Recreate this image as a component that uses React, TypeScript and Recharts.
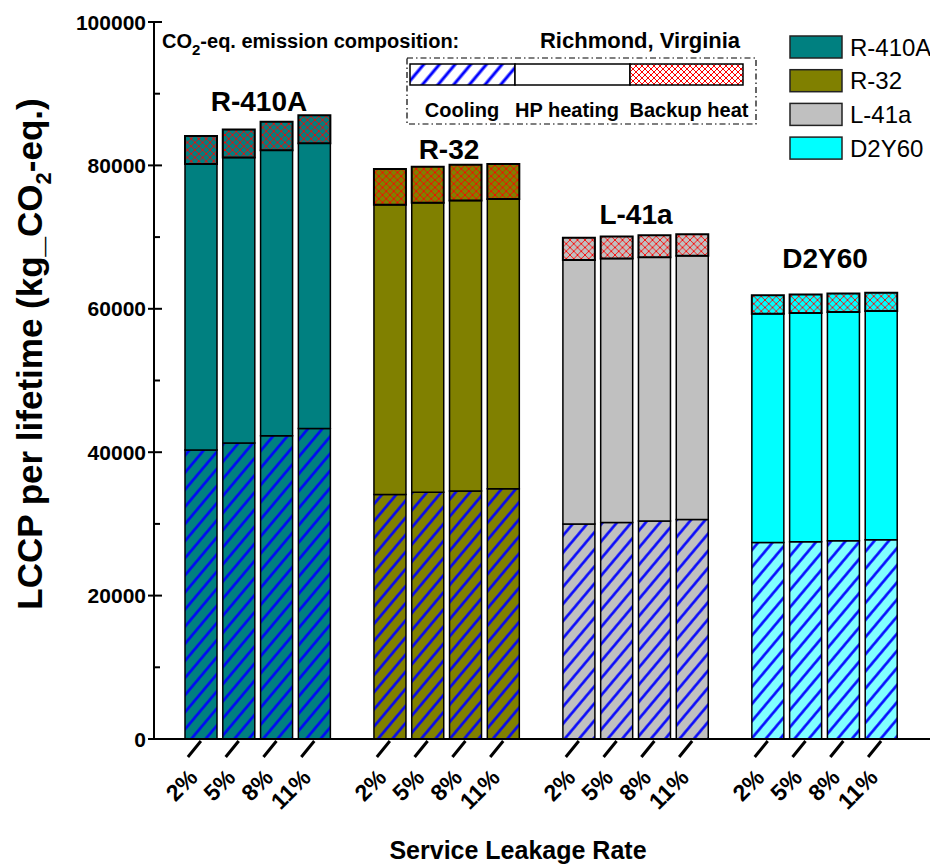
import React from 'react';
import { BarChart, Bar, XAxis, YAxis, Cell } from 'recharts';

const FONT = '"Liberation Sans", Arial, Helvetica, sans-serif';

const refrigerants = ['R-410A', 'R-32', 'L-41a', 'D2Y60'];
const leakageRates = ['2%', '5%', '8%', '11%'];

// segment values in kg CO2-eq., 4 leakage rates per refrigerant (R-410A, R-32, L-41a, D2Y60)
const cooling = [40300, 41300, 42300, 43300, 34100, 34400, 34600, 34900, 30000, 30200, 30400, 30600, 27400, 27500, 27650, 27800];
const hpHeating = [39900, 39800, 39800, 39800, 40400, 40400, 40500, 40400, 36800, 36800, 36800, 36800, 31900, 31900, 31900, 31900];
const backupHeat = [3900, 3900, 4000, 3900, 5000, 5000, 5000, 4900, 3100, 3100, 3050, 3000, 2600, 2600, 2600, 2550];

const yTicks = [0, 10000, 20000, 30000, 40000, 50000, 60000, 70000, 80000, 90000, 100000];

const seriesColors = ['#008080', '#808000', '#C0C0C0', '#00FFFF'];
const coolingColors = ['#008080', '#808000', '#C0C0C0', '#80FFFF'];

type Row = { key: string; rate: string; group: number; cooling: number | null; hp: number | null; backup: number | null };

const rows: Row[] = [];
refrigerants.forEach((ref, g) => {
  leakageRates.forEach((rate, r) => {
    const i = g * 4 + r;
    rows.push({ key: `${ref} ${rate}`, rate, group: g, cooling: cooling[i], hp: hpHeating[i], backup: backupHeat[i] });
  });
  if (g < refrigerants.length - 1) {
    rows.push({ key: `gap-${g}`, rate: '', group: -1, cooling: null, hp: null, backup: null });
  }
});

const groupLabelPos = [
  { x: 259, y: 111 },
  { x: 449, y: 159 },
  { x: 636, y: 224 },
  { x: 825, y: 268 },
];

const XTick = (props: any) => {
  const { x, y, payload } = props;
  const row = rows.find((r) => r.key === payload.value);
  if (!row || !row.rate) return <g />;
  const ex = x - 2;
  const ey = y + 40;
  return (
    <g>
      <line x1={x} y1={y + 2} x2={x - 13} y2={y + 18} stroke="#000" strokeWidth={3} />
      <text x={ex} y={ey} textAnchor="end" transform={`rotate(-45 ${ex} ${ey})`} fontFamily={FONT} fontWeight="bold" fontSize={23} fill="#000">
        {row.rate}
      </text>
    </g>
  );
};

const YTick = (props: any) => {
  const { x, y, payload } = props;
  const major = payload.value % 20000 === 0;
  return (
    <g>
      {major ? (
        <line x1={x - 6} y1={y} x2={x + 8} y2={y} stroke="#000" strokeWidth={2} />
      ) : (
        <line x1={x} y1={y} x2={x + 6} y2={y} stroke="#000" strokeWidth={2} />
      )}
      {major && (
        <text x={x - 8} y={y} dy="0.36em" textAnchor="end" fontFamily={FONT} fontWeight="bold" fontSize={21} fill="#000">
          {payload.value}
        </text>
      )}
    </g>
  );
};

const RTick = (props: any) => {
  const { x, y, payload } = props;
  const major = payload.value % 20000 === 0;
  return <line x1={x} y1={y} x2={x - (major ? 10 : 7)} y2={y} stroke="#000" strokeWidth={2} />;
};

export default function App() {
  return (
    <div style={{ position: 'fixed', left: 0, top: 0, width: 930, height: 864, overflow: 'hidden', background: '#fff' }}>
      <BarChart width={960} height={864} data={rows} margin={{ top: 22, right: 0, bottom: 25, left: 0 }} barSize={32}>
        <defs>
          {coolingColors.map((c, i) => (
            <pattern key={`cool-${i}`} id={`cool-${i}`} width={11} height={11} patternUnits="userSpaceOnUse" patternTransform="rotate(40)">
              <rect width={11} height={11} fill={c} />
              <line x1={5.5} y1={0} x2={5.5} y2={11} stroke="#0000FF" strokeWidth={2.5} />
            </pattern>
          ))}
          {seriesColors.map((c, i) => (
            <pattern key={`backup-${i}`} id={`backup-${i}`} width={7.5} height={7.5} patternUnits="userSpaceOnUse">
              <rect width={7.5} height={7.5} fill={c} />
              <path d="M0,0 L7.5,7.5 M7.5,0 L0,7.5" stroke="#FF0000" strokeWidth={0.9} />
            </pattern>
          ))}
          <pattern id="legend-cool" width={12} height={12} patternUnits="userSpaceOnUse" patternTransform="rotate(40)">
            <rect width={12} height={12} fill="#fff" />
            <line x1={6} y1={0} x2={6} y2={12} stroke="#0000FF" strokeWidth={3} />
          </pattern>
          <pattern id="legend-backup" width={6} height={6} patternUnits="userSpaceOnUse">
            <rect width={6} height={6} fill="#fff" />
            <path d="M0,0 L6,6 M6,0 L0,6" stroke="#FF0000" strokeWidth={1} />
          </pattern>
        </defs>

        <XAxis
          xAxisId="b"
          dataKey="key"
          type="category"
          height={100}
          padding={{ left: 28, right: 33 }}
          interval={0}
          tickSize={0}
          tickMargin={0}
          tickLine={false}
          axisLine={{ stroke: '#000', strokeWidth: 2 }}
          tick={(p: any) => <XTick {...p} />}
        />
        <XAxis
          xAxisId="t"
          orientation="top"
          dataKey="key"
          type="category"
          height={0}
          padding={{ left: 28, right: 33 }}
          tick={false}
          tickLine={false}
          axisLine={{ stroke: '#000', strokeWidth: 2 }}
        />
        <YAxis
          yAxisId="l"
          width={154}
          domain={[0, 100000]}
          ticks={yTicks}
          interval={0}
          tickSize={0}
          tickMargin={0}
          tickLine={false}
          axisLine={{ stroke: '#000', strokeWidth: 2 }}
          tick={(p: any) => <YTick {...p} />}
        />
        <YAxis
          yAxisId="r"
          orientation="right"
          width={27}
          domain={[0, 100000]}
          ticks={yTicks}
          interval={0}
          tickSize={0}
          tickMargin={0}
          tickLine={false}
          axisLine={{ stroke: '#000', strokeWidth: 2 }}
          tick={(p: any) => <RTick {...p} />}
        />

        <Bar dataKey="cooling" stackId="s" xAxisId="b" yAxisId="l" stroke="#000" strokeWidth={1.5} isAnimationActive={false}>
          {rows.map((r) => (
            <Cell key={r.key} fill={r.group >= 0 ? `url(#cool-${r.group})` : 'none'} />
          ))}
        </Bar>
        <Bar dataKey="hp" stackId="s" xAxisId="b" yAxisId="l" stroke="#000" strokeWidth={1.5} isAnimationActive={false}>
          {rows.map((r) => (
            <Cell key={r.key} fill={r.group >= 0 ? seriesColors[r.group] : 'none'} />
          ))}
        </Bar>
        <Bar dataKey="backup" stackId="s" xAxisId="b" yAxisId="l" stroke="#000" strokeWidth={2} isAnimationActive={false}>
          {rows.map((r) => (
            <Cell key={r.key} fill={r.group >= 0 ? `url(#backup-${r.group})` : 'none'} />
          ))}
        </Bar>

        {/* group labels */}
        {refrigerants.map((ref, g) => (
          <text key={ref} x={groupLabelPos[g].x} y={groupLabelPos[g].y} textAnchor="middle" fontFamily={FONT} fontWeight="bold" fontSize={28} fill="#000">
            {ref}
          </text>
        ))}

        {/* axis titles */}
        <text transform="translate(42 354) rotate(-90)" textAnchor="middle" fontFamily={FONT} fontWeight="bold" fontSize={35} fill="#000">
          LCCP per lifetime (kg_CO
          <tspan fontSize={22} dy={9}>2</tspan>
          <tspan dy={-9}>-eq.)</tspan>
        </text>
        <text x={518} y={859} textAnchor="middle" fontFamily={FONT} fontWeight="bold" fontSize={25} fill="#000">
          Service Leakage Rate
        </text>

        {/* top annotation */}
        <text x={162} y={48} fontFamily={FONT} fontWeight="bold" fontSize={20} fill="#000">
          CO
          <tspan fontSize={15} dy={7}>2</tspan>
          <tspan dy={-7}>-eq. emission composition:</tspan>
        </text>
        <text x={640} y={48} textAnchor="middle" fontFamily={FONT} fontWeight="bold" fontSize={22} fill="#000">
          Richmond, Virginia
        </text>
        <rect x={407} y={58} width={349} height={66} fill="none" stroke="#000" strokeWidth={1.2} strokeDasharray="6 3 1.5 3" />
        <rect x={410} y={64} width={105} height={21} fill="url(#legend-cool)" stroke="#000" strokeWidth={1.5} />
        <rect x={515} y={64} width={115} height={21} fill="#fff" stroke="#000" strokeWidth={1.5} />
        <rect x={630} y={64} width={113} height={21} fill="url(#legend-backup)" stroke="#000" strokeWidth={1.5} />
        <text x={462} y={117} textAnchor="middle" fontFamily={FONT} fontWeight="bold" fontSize={20} fill="#000">Cooling</text>
        <text x={567} y={117} textAnchor="middle" fontFamily={FONT} fontWeight="bold" fontSize={20} fill="#000">HP heating</text>
        <text x={689} y={117} textAnchor="middle" fontFamily={FONT} fontWeight="bold" fontSize={20} fill="#000">Backup heat</text>

        {/* series legend */}
        {refrigerants.map((ref, g) => (
          <g key={`lg-${ref}`}>
            <rect x={790} y={36 + g * 33.7} width={52} height={22} fill={seriesColors[g]} stroke="#222" strokeWidth={1.5} />
            <text x={850} y={36 + g * 33.7 + 19.5} fontFamily={FONT} fontSize={24} fill="#000">
              {ref}
            </text>
          </g>
        ))}
      </BarChart>
    </div>
  );
}
